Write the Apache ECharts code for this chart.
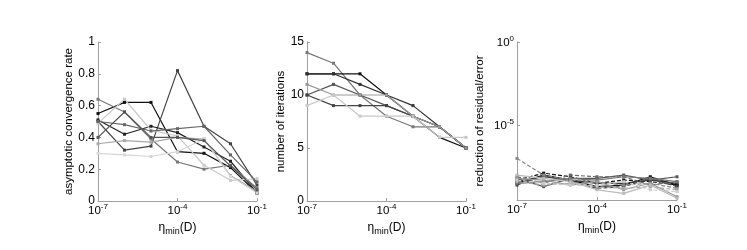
<!DOCTYPE html>
<html><head><meta charset="utf-8">
<script src="https://cdn.jsdelivr.net/npm/echarts@6/dist/echarts.min.js"></script>
<style>html,body{margin:0;padding:0;background:#fff}#c{width:747px;height:250px}</style>
</head><body><div id="c"></div>
<script>
// eta_min(D) values (x categories)
const etaMin = ['1e-7','1e-6','1e-5','1e-4','1e-3','1e-2','1e-1'];

// Panel 1: asymptotic convergence rate
const rateColors = ['#111111','#444444','#222222','#777777','#c8c8c8','#a8a8a8','#d6d6d6','#666666','#555555'];
const rateA = [0.55, 0.62, 0.62, 0.31, 0.30, 0.21, 0.05];
const rateB = [0.50, 0.32, 0.345, 0.82, 0.47, 0.36, 0.10];
const rateC = [0.51, 0.42, 0.47, 0.43, 0.34, 0.25, 0.05];
const rateD = [0.64, 0.56, 0.39, 0.245, 0.20, 0.225, 0.08];
const rateE = [0.49, 0.64, 0.445, 0.41, 0.225, 0.13, 0.14];
const rateF = [0.36, 0.38, 0.37, 0.40, 0.39, 0.16, 0.06];
const rateG = [0.30, 0.29, 0.28, 0.31, 0.39, 0.155, 0.05];
const rateH = [0.50, 0.48, 0.44, 0.455, 0.47, 0.29, 0.12];
const rateI = [0.40, 0.56, 0.40, 0.40, 0.38, 0.22, 0.07];
const rateSeries = [rateA, rateB, rateC, rateD, rateE, rateF, rateG, rateH, rateI];

// Panel 2: number of iterations
const iterColors = ['#777777','#111111','#333333','#555555','#444444','#999999','#c8c8c8'];
const iter1 = [14, 13, 10, 8, 7, 7, 5];
const iter2 = [12, 12, 12, 10, 8, 6, 5];
const iter3 = [12, 12, 11, 10, 9, 7, 5];
const iter4 = [10, 11, 10, 9, 8, 7, 5];
const iter5 = [10, 9, 9, 9, 8, 7, 5];
const iter6 = [11, 10, 10, 10, 8, 7, 5];
const iter7 = [9, 10, 8, 8, 8, 6, 6];
const iterSeries = [iter1, iter2, iter3, iter4, iter5, iter6, iter7];

// Panel 3: reduction of residual/error (solid and dashed)
const redColors = ['#111111','#111111','#333333','#444444','#555555','#666666','#777777','#888888','#999999','#aaaaaa','#bbbbbb','#cccccc'];
const redDashed = [false, true, false, true, false, true, false, true, false, true, false, true];
const red1  = [3.2e-9, 1.0e-8, 5.0e-9, 2.0e-9, 2.5e-9, 7.9e-9, 2.5e-9];
const red2  = [5.0e-9, 1.3e-8, 7.9e-9, 3.2e-9, 5.0e-9, 4.0e-9, 2.5e-9];
const red3  = [4.0e-9, 7.9e-9, 5.0e-9, 3.2e-9, 3.2e-9, 5.0e-9, 3.2e-9];
const red4  = [2.5e-9, 1.0e-8, 4.0e-9, 1.6e-9, 2.0e-9, 6.3e-9, 2.0e-9];
const red5  = [6.3e-9, 2.0e-9, 6.3e-9, 6.3e-9, 1.0e-8, 5.0e-9, 7.9e-9];
const red6  = [7.9e-9, 3.2e-9, 1.0e-8, 7.9e-9, 7.9e-9, 2.5e-9, 4.0e-9];
const red7  = [3.2e-9, 4.0e-9, 6.3e-9, 5.0e-9, 7.9e-9, 6.3e-9, 4.0e-9];
const red8  = [1.0e-7, 1.0e-8, 5.0e-9, 4.0e-9, 2.5e-9, 3.2e-9, 1.6e-9];
const red9  = [6.3e-9, 5.0e-9, 2.5e-9, 4.0e-9, 1.3e-9, 3.2e-9, 5.0e-10];
const red10 = [4.0e-9, 2.5e-9, 3.2e-9, 2.0e-9, 1.6e-9, 2.0e-9, 1.3e-9];
const red11 = [1.0e-8, 6.3e-9, 4.0e-9, 1.3e-9, 7.9e-10, 2.5e-9, 4.0e-10];
const red12 = [5.0e-9, 3.2e-9, 2.5e-9, 2.5e-9, 4.0e-9, 1.3e-9, 1.0e-9];
const redSeries = [red1, red2, red3, red4, red5, red6, red7, red8, red9, red10, red11, red12];

const FONT = "'Liberation Sans', Arial, Helvetica, sans-serif";
const AXIS_COLOR = '#a0a0a0';
const expOf = s => String(Math.round(Math.log10(Number(s))));
const powRich = {
  b: { fontSize: 11.5, fontFamily: FONT, color: '#000', lineHeight: 14, verticalAlign: 'bottom' },
  s: { fontSize: 8, fontFamily: FONT, color: '#000', lineHeight: 14, verticalAlign: 'top' }
};
const nameRich = {
  e: { fontSize: 12, fontFamily: FONT, color: '#000', lineHeight: 14, verticalAlign: 'top' },
  m: { fontSize: 9, fontFamily: FONT, color: '#000', lineHeight: 14, verticalAlign: 'bottom' }
};

const grids = [
  { left: 98, top: 42, width: 159, height: 159 },
  { left: 307, top: 42, width: 159, height: 159 },
  { left: 517, top: 42, width: 160, height: 158 }
];

const xAxes = grids.map((g, i) => ({
  type: 'category', gridIndex: i, data: etaMin, boundaryGap: false,
  axisLine: { lineStyle: { color: AXIS_COLOR, width: 1 } },
  axisTick: { interval: 2, inside: true, length: 3, lineStyle: { color: AXIS_COLOR } },
  axisLabel: { interval: 2, margin: 2, formatter: v => '{b|10}{s|' + expOf(v) + '}', rich: powRich },
  splitLine: { show: false },
  name: '{e|\u03B7}{m|min}{e|(D)}', nameLocation: 'middle', nameGap: 18,
  nameTextStyle: { rich: nameRich }
}));

const yCommon = {
  axisLine: { show: true, lineStyle: { color: AXIS_COLOR, width: 1 } },
  axisTick: { show: true, inside: true, length: 3, lineStyle: { color: AXIS_COLOR } },
  splitLine: { show: false },
  nameLocation: 'middle', nameRotate: 90,
  nameTextStyle: { fontSize: 11.5, fontFamily: FONT, color: '#000' },
  axisLabel: { fontSize: 12, fontFamily: FONT, color: '#000', margin: 3 }
};

const yAxes = [
  Object.assign({}, yCommon, { type: 'value', gridIndex: 0, min: 0, max: 1, interval: 0.2,
    name: 'asymptotic convergence rate', nameGap: 22 }),
  Object.assign({}, yCommon, { type: 'value', gridIndex: 1, min: 0, max: 15, interval: 5,
    name: 'number of iterations', nameGap: 13 }),
  Object.assign({}, yCommon, { type: 'log', gridIndex: 2, min: 3.1623e-10, max: 1,
    name: 'reduction of residual/error', nameGap: 31,
    axisTick: { show: true, inside: true, length: 3, lineStyle: { color: AXIS_COLOR }, customValues: [1e-5, 1] },
    axisLabel: { margin: 3, customValues: [1e-5, 1], formatter: v => '{b|10}{s|' + expOf(v) + '}', rich: powRich } })
];

function mk(data, color, idx, dashed) {
  return {
    type: 'line', xAxisIndex: idx, yAxisIndex: idx, data: data,
    symbol: 'rect', symbolSize: 3, showSymbol: true,
    itemStyle: { color: color }, lineStyle: { color: color, width: 1.2, type: dashed ? [4, 2] : 'solid' },
    emphasis: { disabled: true }, silent: true
  };
}

const series = [];
rateSeries.forEach((d, k) => series.push(mk(d, rateColors[k], 0, false)));
iterSeries.forEach((d, k) => series.push(mk(d, iterColors[k], 1, false)));
redSeries.forEach((d, k) => series.push(mk(d, redColors[k], 2, redDashed[k])));

const chart = echarts.init(document.getElementById('c'), null, { renderer: 'canvas' });
chart.setOption({
  animation: false, backgroundColor: '#fff',
  textStyle: { fontFamily: FONT },
  grid: grids, xAxis: xAxes, yAxis: yAxes, series: series
});
</script></body></html>
